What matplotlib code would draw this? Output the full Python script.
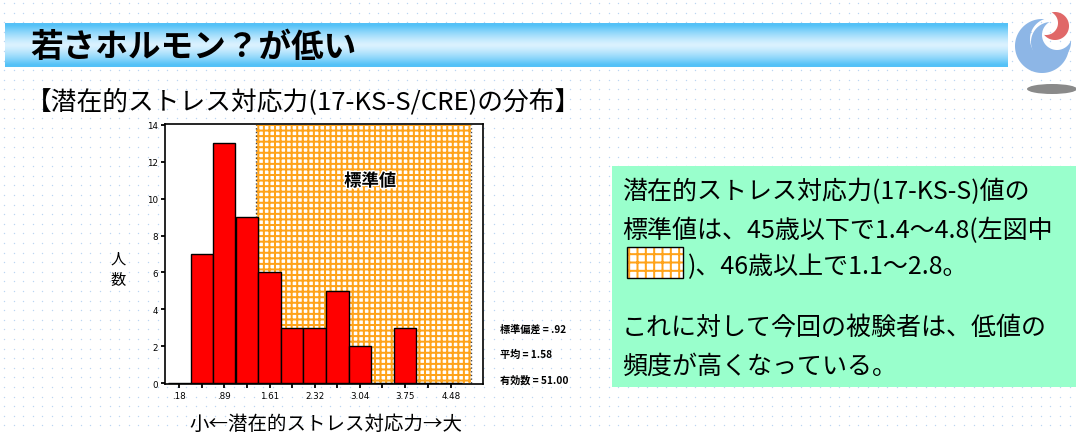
import numpy as np
import matplotlib
matplotlib.use("Agg")
import matplotlib.pyplot as plt
from matplotlib.patches import Rectangle, Polygon, Ellipse
import matplotlib.patheffects as pe

plt.rcParams['font.family'] = ['Noto Sans CJK JP', 'DejaVu Sans']
plt.rcParams['hatch.linewidth'] = 1.45

# ---- data -------------------------------------------------------------
bin_centers = [0.18, 0.54, 0.89, 1.25, 1.61, 1.96, 2.32, 2.68, 3.04, 3.39, 3.75, 4.11, 4.48]
counts = [0, 7, 13, 9, 6, 3, 3, 5, 2, 0, 3, 0, 0]
tick_labels = ['.18', '.89', '1.61', '2.32', '3.04', '3.75', '4.48']
y_ticks = [0, 2, 4, 6, 8, 10, 12, 14]
std_range = (1.4, 4.8)
stats_lines = ['標準偏差 = .92', '平均 = 1.58', '有効数 = 51.00']

title = '若さホルモン？が低い'
subtitle = '【潜在的ストレス対応力(17-KS-S/CRE)の分布】'
x_label = '小←潜在的ストレス対応力→大'
y_label = ['人', '数']
note_lines = ['潜在的ストレス対応力(17-KS-S)値の',
              '標準値は、45歳以下で1.4～4.8(左図中',
              ' )、46歳以上で1.1～2.8。',
              'これに対して今回の被験者は、低値の',
              '頻度が高くなっている。']

RED = '#FF0000'
ORANGE = '#FFA31A'
MINT = '#99FFCC'
W, H = 1076, 435

fig = plt.figure(figsize=(W / 100, H / 100), dpi=100)
fig.patch.set_facecolor('white')

# ---- slide background (pixel coordinates, y downwards) ------------------
bg = fig.add_axes([0, 0, 1, 1])
bg.set_xlim(0, W)
bg.set_ylim(H, 0)
bg.axis('off')

gx, gy = np.meshgrid(np.arange(4, W, 9.6), np.arange(4, H, 9.6))
bg.scatter(gx.ravel(), gy.ravel(), s=1.0, color='#bcd6f2', linewidths=0, zorder=0)

# title band with vertical gradient
t = np.linspace(0, 1, 60)
f = np.clip(np.abs(t - 0.5) * 2.2, 0, 1) ** 1.3
blue = np.array([0.33, 0.76, 0.97])
light = np.array([0.86, 0.95, 1.0])
grad = (light[None, :] * (1 - f[:, None]) + blue[None, :] * f[:, None])[:, None, :]
bg.imshow(grad, extent=(5, 1008, 68, 24), aspect='auto', zorder=1, interpolation='bilinear')
bg.text(30, 47, title, fontsize=23.5, fontweight='bold', va='center', ha='left', zorder=2)

# logo
def crescent(c1, r1, c2, r2, n=1500):
    c1 = np.asarray(c1, float)
    c2 = np.asarray(c2, float)
    d = c1 - c2
    base = np.arctan2(d[1], d[0])
    a = base + np.linspace(-np.pi, np.pi, n)
    p1 = c1 + r1 * np.c_[np.cos(a), np.sin(a)]
    p1 = p1[np.hypot(*(p1 - c2).T) > r2]
    p2 = c2 + r2 * np.c_[np.cos(a), np.sin(a)]
    p2 = p2[np.hypot(*(p2 - c1).T) < r1][::-1]
    return np.vstack([p1, p2])

LOGO_BLUE = '#8db6e6'
bg.add_patch(Polygon(crescent((1042, 47), 27, (1051, 40), 21), closed=True,
                     fc=LOGO_BLUE, ec='none', zorder=2))
bg.add_patch(Polygon(crescent((1051, 43), 20, (1057, 36), 15), closed=True,
                     fc=LOGO_BLUE, ec='none', zorder=2))
bg.add_patch(Polygon(crescent((1055, 27), 14, (1046, 24), 12), closed=True,
                     fc='#e06868', ec='none', zorder=2))
bg.add_patch(Ellipse((1052, 90), 50, 10, fc='#8a8a8a', ec='none', zorder=2))

bg.text(26, 103, subtitle, fontsize=18.5, va='center', ha='left', zorder=2)

# axis captions and statistics
bg.text(118, 259, y_label[0], fontsize=11, ha='center', va='center', zorder=2)
bg.text(118, 281, y_label[1], fontsize=11, ha='center', va='center', zorder=2)
bg.text(326, 424, x_label, fontsize=14, ha='center', va='center', zorder=2)
for yy, line in zip([330, 355, 381], stats_lines):
    bg.text(500, yy, line, fontsize=7.3, fontweight='bold', ha='left', va='center', zorder=2)

# explanation box
bg.add_patch(Rectangle((612, 167), 470, 221, fc=MINT, ec='none', zorder=1))
for yy, line in zip([192, 231, 267, 328, 367], note_lines):
    bg.text(622 if not line.startswith(' ') else 688, yy, line.strip(), fontsize=18,
            ha='left', va='center', zorder=2)
bg.add_patch(Rectangle((627, 248), 56, 31, fc='white', ec=ORANGE, lw=0, hatch='++', zorder=2))
bg.add_patch(Rectangle((627, 248), 56, 31, fill=False, ec='black', lw=1, zorder=3))

# ---- histogram ----------------------------------------------------------
ax = fig.add_axes([165 / W, 1 - 385 / H, 318 / W, 260 / H])
ax.set_facecolor('white')
ax.set_xlim(-0.046, 4.985)
ax.set_ylim(-0.05, 14.05)

ax.add_patch(Rectangle((std_range[0], 0), std_range[1] - std_range[0], 14,
                       fc='white', ec=ORANGE, lw=0, hatch='+++', zorder=1))
for xv in std_range:
    ax.plot([xv, xv], [0, 14], ls=':', color='#444444', lw=1.0, zorder=2)

ax.bar(bin_centers, counts, width=0.357, color=RED, edgecolor='black', linewidth=1.0, zorder=3)

ax.text(3.2, 10.95, '標準値', fontsize=12.5, fontweight='bold', ha='center', va='center', zorder=4,
        path_effects=[pe.withStroke(linewidth=2, foreground='white')])

ax.set_xticks(bin_centers[::2])
ax.set_xticklabels(tick_labels)
ax.set_xticks(bin_centers[1::2], minor=True)
ax.set_yticks(y_ticks)
ax.set_yticklabels([str(v) for v in y_ticks])
ax.tick_params(axis='both', which='both', direction='out', length=3, width=1.3,
               labelsize=6.3, pad=2)
for lab in ax.get_xticklabels() + ax.get_yticklabels():
    lab.set_fontfamily('DejaVu Sans')
for s in ax.spines.values():
    s.set_linewidth(1.2)
    s.set_color('black')

fig.savefig('out.png', dpi=100)
